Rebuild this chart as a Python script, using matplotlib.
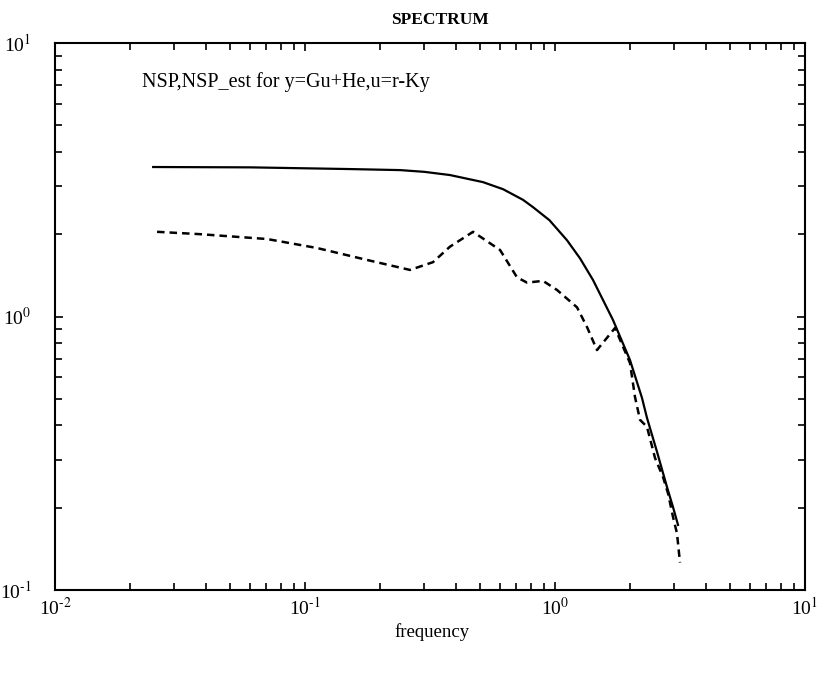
import math
import matplotlib
matplotlib.use("Agg")
import matplotlib.pyplot as plt
from matplotlib.ticker import LogLocator, NullFormatter, FuncFormatter

# === Данные ===
freq_nsp = [0.0247, 0.0603, 0.151, 0.240, 0.300, 0.380, 0.515, 0.620, 0.745,
            0.817, 0.950, 1.117, 1.260, 1.419, 1.706, 1.995, 2.228, 2.333,
            2.559, 2.805, 2.965, 3.105]
nsp = [3.52, 3.51, 3.46, 3.43, 3.38, 3.29, 3.10, 2.92, 2.67,
       2.51, 2.25, 1.90, 1.63, 1.36, 0.971, 0.693, 0.504, 0.426,
       0.320, 0.238, 0.201, 0.173]

freq_est = [0.0256, 0.038, 0.0705, 0.1117, 0.177, 0.263, 0.325, 0.380, 0.470,
            0.603, 0.705, 0.773, 0.895, 1.019, 1.225, 1.343, 1.472, 1.738,
            1.995, 2.089, 2.188, 2.333, 2.512, 2.704, 2.831, 2.965, 3.076, 3.162]
nsp_est = [2.04, 2.00, 1.92, 1.78, 1.61, 1.48, 1.58, 1.80, 2.04,
           1.75, 1.39, 1.33, 1.35, 1.25, 1.08, 0.915, 0.754, 0.908,
           0.676, 0.508, 0.419, 0.395, 0.304, 0.259, 0.226, 0.185, 0.161, 0.126]

# === Оформление ===
plt.rcParams["font.family"] = ["Liberation Serif", "DejaVu Serif"]
plt.rcParams["mathtext.fontset"] = "stix"
plt.rcParams["axes.unicode_minus"] = False


def pow10(v, pos):
    # подписи вида 10-1 с дефисом, как на оригинале
    e = int(round(math.log10(v)))
    if e < 0:
        return r"10$^{\text{-}%d}$" % (-e)
    return r"10$^{%d}$" % e


fig = plt.figure(figsize=(8.19, 6.73), dpi=100)
ax = fig.add_axes([55 / 819, 1 - 590 / 673, 750 / 819, 547 / 673])

ax.plot(freq_nsp, nsp, color="black", lw=1.6)
ax.plot(freq_est, nsp_est, color="black", lw=1.8, linestyle=(0, (3, 2)))

ax.set_xscale("log")
ax.set_yscale("log")
ax.set_xlim(1e-2, 1e1)
ax.set_ylim(1e-1, 1e1)

ax.xaxis.set_minor_locator(LogLocator(base=10, subs=range(2, 10)))
ax.yaxis.set_minor_locator(LogLocator(base=10, subs=range(2, 10)))
ax.xaxis.set_major_formatter(FuncFormatter(pow10))
ax.yaxis.set_major_formatter(FuncFormatter(pow10))
ax.xaxis.set_minor_formatter(NullFormatter())
ax.yaxis.set_minor_formatter(NullFormatter())

ax.tick_params(which="both", direction="in", top=True, right=True, width=1.2)
ax.tick_params(which="major", length=6, labelsize=14)
ax.tick_params(which="minor", length=5)
ax.tick_params(axis="y", which="major", pad=17)
ax.tick_params(axis="x", which="major", pad=5)
for s in ax.spines.values():
    s.set_linewidth(1.5)

ax.text(0.116, 0.929, "NSP,NSP_est for y=Gu+He,u=r-Ky", transform=ax.transAxes,
        fontsize=14.5, ha="left", va="center")

fig.text(440 / 819, 1 - 20 / 673, "SPECTRUM", fontsize=12.5, ha="center",
         va="center", fontweight="bold")
fig.text(432 / 819, 1 - 632 / 673, "frequency", fontsize=13.5, ha="center",
         va="center")

fig.savefig("out.png", dpi=100)
